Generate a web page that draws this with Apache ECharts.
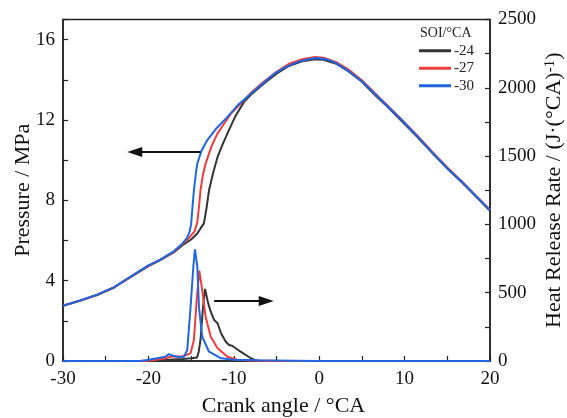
<!DOCTYPE html>
<html><head><meta charset="utf-8">
<script src="https://cdn.jsdelivr.net/npm/echarts@6/dist/echarts.min.js"></script>
<style>html,body{margin:0;padding:0;background:#fff}#c{width:567px;height:418px}</style>
</head><body><div id="c"></div>
<script>
// Crank angle / pressure curves [crankAngle, MPa]
const pressure24 = [[-30,2.75],[-28,3.0],[-26,3.28],[-24,3.66],[-22,4.2],[-20,4.72],[-18.6,5.02],[-17,5.42],[-16,5.76],[-15,6.05],[-14.27,6.35],[-13.9,6.6],[-13.5,6.85],[-13.2,7.6],[-12.9,8.5],[-12.4,9.4],[-11.9,10.16],[-11.3,10.8],[-10.74,11.33],[-9.8,12.2],[-8.8,12.9],[-8,13.25],[-6.5,13.8],[-5,14.3],[-3.5,14.7],[-2,14.92],[-0.5,15.02],[0.5,15.0],[2,14.8],[3.4,14.43],[5,13.9],[6.5,13.25],[8,12.65],[9.65,11.95],[11.5,11.15],[13.2,10.38],[15,9.58],[16.7,8.9],[18.5,8.12],[20,7.48]];
const pressure27 = [[-30,2.75],[-28,3.02],[-26,3.3],[-24,3.68],[-22,4.22],[-20,4.75],[-18.6,5.05],[-17,5.45],[-16,5.82],[-15.2,6.15],[-14.6,6.45],[-14.27,6.9],[-14.05,7.8],[-13.9,8.5],[-13.6,9.3],[-13.3,9.83],[-12.6,10.7],[-11.9,11.33],[-11,11.9],[-10.35,12.3],[-9,12.9],[-8,13.35],[-6.5,13.9],[-5,14.4],[-3.5,14.8],[-2,15.02],[-0.5,15.13],[0.5,15.1],[2,14.88],[3.4,14.52],[5,13.98],[6.5,13.34],[8,12.72],[9.65,12.02],[11.5,11.22],[13.2,10.43],[15,9.63],[16.7,8.95],[18.5,8.17],[20,7.53]];
const pressure30 = [[-30,2.75],[-28,3.02],[-26,3.3],[-24,3.68],[-22,4.23],[-20,4.76],[-18.6,5.05],[-17,5.47],[-16,5.85],[-15.5,6.12],[-15.2,6.4],[-15.0,6.8],[-14.85,7.6],[-14.67,8.5],[-14.45,9.3],[-14.27,9.83],[-13.8,10.45],[-13.1,11.0],[-12,11.6],[-10.74,12.15],[-9.5,12.75],[-8,13.3],[-6.5,13.85],[-5.26,14.3],[-4,14.62],[-2.5,14.89],[-1,15.05],[-0.15,15.08],[1,15.0],[2,14.82],[3.38,14.46],[5,13.93],[6.5,13.3],[8,12.68],[9.65,12.0],[11.5,11.18],[13.2,10.4],[15,9.6],[16.7,8.92],[18.5,8.15],[20,7.5]];

// Heat release rate [crankAngle, J/°CA]
const hrr24 = [[-30,0],[-20,0],[-18,8],[-16,15],[-15,20],[-14.3,25],[-14.1,70],[-13.9,154],[-13.6,397],[-13.37,528],[-13.0,422],[-12.7,361],[-12.3,300],[-11.9,276],[-11.5,203],[-10.94,141],[-10.55,117],[-10.2,112],[-9.2,68],[-8.0,20],[-7.3,0],[20,0]];
const hrr27 = [[-30,0],[-20.5,0],[-19,10],[-18,20],[-17.4,31],[-16,35],[-15.06,56],[-14.67,154],[-14.35,446],[-14.04,661],[-13.7,520],[-13.3,324],[-12.7,178],[-11.9,93],[-10.74,31],[-9.6,10],[-8,3],[-5,0],[20,0]];
const hrr30 = [[-30,0],[-21,0],[-20.15,7],[-19,20],[-18,32],[-17.6,50],[-17,36],[-16.5,30],[-15.85,31],[-15.45,80],[-15.06,397],[-14.74,690],[-14.55,818],[-14.27,690],[-14.08,397],[-13.7,178],[-12.9,68],[-11.5,20],[-10,10],[-7,5],[-3,2],[0,0],[20,0]];

const seriesNames = ['-24','-27','-30'];
const seriesColors = ['#333333','#f03c3c','#1f66e0'];
const xTicks = [-30,-20,-10,0,10,20];
// Annotation arrows: [fromX, toX, y]
const arrowPressure = [-13.9,-21.6,10.41];
const arrowHRR = [-12.3,-6.2,439];

const serif = '"Liberation Serif","Times New Roman",serif';
const chart = echarts.init(document.getElementById('c'), null, {renderer:'canvas'});

function arrowLine(a){
  return {silent:true, symbol:['none','triangle'], symbolSize:[10,15], label:{show:false},
    lineStyle:{color:'#111',width:2,type:'solid'}, animation:false,
    data:[[{coord:[a[0],a[2]]},{coord:[a[1],a[2]]}]]};
}
const pSets=[pressure24,pressure27,pressure30], hSets=[hrr24,hrr27,hrr30];
const series=[];
for(let i=0;i<3;i++){
  series.push({name:seriesNames[i],type:'line',yAxisIndex:0,data:pSets[i],showSymbol:false,
    lineStyle:{width:2,color:seriesColors[i]},itemStyle:{color:seriesColors[i]},animation:false,z:2+i,
    markLine: i===2?arrowLine(arrowPressure):undefined});
}
for(let i=0;i<3;i++){
  series.push({name:seriesNames[i],type:'line',yAxisIndex:1,data:hSets[i],showSymbol:false,
    lineStyle:{width:2,color:seriesColors[i]},itemStyle:{color:seriesColors[i]},animation:false,z:2+i,
    markLine: i===2?arrowLine(arrowHRR):undefined});
}
const axisCommon = {
  axisLine:{show:true,onZero:false,lineStyle:{color:'#222',width:1.5}},
  axisTick:{show:true,inside:true,length:5,lineStyle:{color:'#222',width:1.2}},
  splitLine:{show:false},
  nameMoveOverlap:false,
};
chart.setOption({
  backgroundColor:'#fff',
  textStyle:{fontFamily:serif},
  grid:{left:63,right:77,top:19.5,bottom:57,show:true,borderColor:'#222',borderWidth:1.5,backgroundColor:'transparent',
    containLabel:false,outerBoundsMode:'none'},
  title:{text:'SOI/°CA',left:420,top:26,padding:0,textStyle:{fontFamily:serif,fontSize:14,fontWeight:'normal',color:'#222'}},
  legend:{orient:'vertical',left:419,top:42,padding:0,icon:'rect',itemWidth:32,itemHeight:3,itemGap:0,
    data:seriesNames,textStyle:{fontFamily:serif,fontSize:15,color:'#222',lineHeight:17.5,padding:[0,0,0,-2]}},
  xAxis:Object.assign({},axisCommon,{type:'value',min:-30,max:20,interval:5,
    axisLabel:{fontSize:19,color:'#111',margin:9,fontFamily:serif,
      formatter:v=>xTicks.indexOf(v)>=0?String(v):''},
    name:'Crank angle / °CA',nameLocation:'middle',nameGap:34,
    nameTextStyle:{fontSize:22,color:'#111',fontFamily:serif,padding:[0,0,0,14]}}),
  yAxis:[
    Object.assign({},axisCommon,{type:'value',min:0,max:17,interval:2,position:'left',
      axisLabel:{fontSize:19,color:'#111',margin:8,fontFamily:serif,formatter:v=>(v%4===0?String(v):'')},
      name:'Pressure / MPa',nameLocation:'middle',nameGap:29,
      nameTextStyle:{fontSize:22,color:'#111',fontFamily:serif}}),
    Object.assign({},axisCommon,{type:'value',min:0,max:2500,interval:250,position:'right',
      axisLabel:{fontSize:19,color:'#111',margin:8,fontFamily:serif,formatter:v=>(v%500===0?String(v):'')},
      name:'Heat Release Rate / (J·(°CA){sup|-1})',nameLocation:'middle',nameGap:53,nameRotate:90,
      nameTextStyle:{fontSize:22,color:'#111',fontFamily:serif,
        rich:{sup:{fontSize:15,color:'#111',fontFamily:serif,verticalAlign:'top'}}}})
  ],
  series:series
});
</script></body></html>
